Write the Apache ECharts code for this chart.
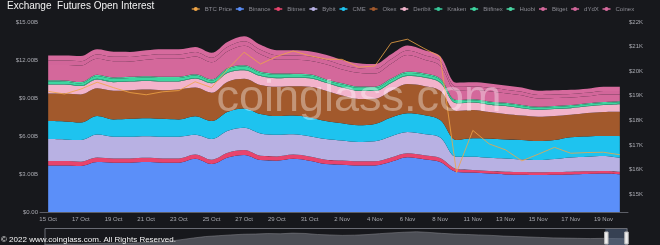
<!DOCTYPE html>
<html><head><meta charset="utf-8">
<script src="https://cdn.jsdelivr.net/npm/echarts@6/dist/echarts.min.js"></script>
<style>html,body{margin:0;padding:0;background:#17181c;}#c{width:660px;height:245px;}</style>
</head><body><div id="c"></div>
<script>
const categories = ['15 Oct','16 Oct','17 Oct','18 Oct','19 Oct','20 Oct','21 Oct','22 Oct','23 Oct','24 Oct','25 Oct','26 Oct','27 Oct','28 Oct','29 Oct','30 Oct','31 Oct','1 Nov','2 Nov','3 Nov','4 Nov','5 Nov','6 Nov','7 Nov','8 Nov','10 Nov','11 Nov','12 Nov','13 Nov','14 Nov','15 Nov','16 Nov','17 Nov','18 Nov','19 Nov','20 Nov'];
// open interest, billions USD
const binance  = [3.68,3.68,3.63,3.94,3.89,3.89,3.94,3.89,3.89,4.20,3.79,4.31,4.50,4.10,4.05,4.20,4.05,3.79,3.74,3.68,3.68,3.97,4.32,4.16,3.94,3.16,3.11,3.03,2.97,2.95,2.92,2.95,2.97,3.00,3.03,2.97];
const bitmex   = [0.34,0.34,0.34,0.36,0.34,0.34,0.34,0.34,0.34,0.34,0.34,0.37,0.39,0.34,0.34,0.34,0.34,0.34,0.32,0.32,0.32,0.34,0.32,0.32,0.32,0.24,0.21,0.21,0.21,0.21,0.21,0.21,0.21,0.21,0.21,0.21];
const bybit    = [1.74,1.71,1.71,1.81,1.71,1.71,1.71,1.71,1.71,1.55,1.63,1.74,1.76,1.76,1.71,1.60,1.60,1.63,1.58,1.53,1.58,1.68,1.68,1.68,1.63,0.97,1.05,1.05,1.05,1.00,0.97,1.03,1.13,1.16,1.18,1.10];
const cme      = [1.42,1.42,1.39,1.47,1.37,1.42,1.42,1.42,1.37,1.47,1.42,1.50,1.53,1.53,1.47,1.47,1.47,1.42,1.37,1.32,1.37,1.47,1.47,1.50,1.37,1.32,1.45,1.50,1.50,1.53,1.50,1.50,1.60,1.60,1.58,1.71];
const okex     = [2.18,2.21,2.21,2.18,2.26,2.26,2.26,2.26,2.37,2.26,2.24,2.37,2.34,2.29,2.31,2.31,2.42,2.39,2.18,2.08,2.00,2.10,2.31,2.29,2.31,2.29,2.24,2.10,2.00,1.92,1.92,1.89,1.76,1.84,1.89,1.92];
const deribit  = [0.71,0.71,0.66,0.71,0.68,0.68,0.68,0.68,0.63,0.71,0.74,0.71,0.68,0.71,0.68,0.68,0.68,0.63,0.63,0.63,0.60,0.63,0.63,0.66,0.63,0.60,0.58,0.58,0.63,0.58,0.55,0.55,0.53,0.53,0.55,0.60];
const kraken   = [0.04,0.04,0.04,0.04,0.04,0.04,0.04,0.04,0.04,0.04,0.04,0.04,0.04,0.04,0.04,0.04,0.04,0.04,0.04,0.04,0.04,0.04,0.04,0.04,0.04,0.03,0.03,0.03,0.03,0.03,0.03,0.03,0.03,0.03,0.03,0.03];
const bitfinex = [0.20,0.18,0.18,0.23,0.23,0.23,0.23,0.23,0.23,0.20,0.18,0.23,0.25,0.20,0.23,0.18,0.18,0.15,0.20,0.20,0.20,0.20,0.20,0.20,0.20,0.15,0.15,0.15,0.15,0.15,0.13,0.13,0.13,0.13,0.13,0.13];
const huobi    = [0.10,0.10,0.10,0.10,0.10,0.10,0.10,0.10,0.10,0.10,0.10,0.10,0.10,0.10,0.10,0.10,0.10,0.10,0.10,0.10,0.10,0.10,0.10,0.10,0.10,0.08,0.08,0.08,0.08,0.08,0.08,0.08,0.08,0.08,0.08,0.08];
const bitget   = [1.20,1.22,1.30,1.25,1.28,1.22,1.30,1.43,1.41,1.41,1.35,1.33,1.54,1.38,1.09,1.09,1.06,1.17,1.09,1.09,1.04,1.17,1.33,1.09,1.01,0.76,0.73,0.81,0.76,0.76,0.65,0.63,0.60,0.55,0.60,0.52];
const dydx     = [0.35,0.35,0.35,0.35,0.35,0.35,0.35,0.35,0.35,0.35,0.35,0.35,0.35,0.35,0.35,0.35,0.35,0.35,0.35,0.35,0.35,0.35,0.35,0.35,0.35,0.28,0.28,0.28,0.28,0.28,0.28,0.28,0.28,0.28,0.28,0.28];
const coinex   = [0.40,0.40,0.40,0.40,0.40,0.40,0.40,0.40,0.40,0.40,0.40,0.40,0.40,0.40,0.40,0.40,0.40,0.40,0.40,0.40,0.40,0.40,0.40,0.40,0.40,0.33,0.33,0.33,0.33,0.33,0.33,0.33,0.33,0.33,0.33,0.33];
// BTC price, thousands USD
const btcPrice = [19.18,19.07,19.27,19.55,19.33,19.13,19.04,19.16,19.21,19.57,19.33,20.09,20.77,20.29,20.60,20.82,20.63,20.49,20.48,20.16,20.21,21.15,21.30,20.93,20.59,15.88,17.59,17.04,16.80,16.35,16.62,16.90,16.66,16.69,16.70,16.60];
// long-history overview shown in the slider
const historyShape = [3.0,3.2,3.4,3.3,3.6,3.9,4.2,4.0,4.5,5.0,5.6,7.0,8.5,9.8,10.5,11.2,11.8,12.0,12.4,12.2,12.8,12.5,11.6,11.2,10.8,11.0,11.5,12.3,13.0,13.6,14.0,13.4,12.6,12.0,11.6,11.2,10.8,10.2,9.8,9.4,9.0,8.6,8.4,8.2,8.0,8.2,8.0,7.8];
const leftTicks = [0,3,6,9,12,15];
const rightTicks = [15,16,17,18,19,20,21,22];

const stackDefs = [
  ['Binance', binance, '#5b8ff9'],
  ['Bitmex', bitmex, '#e8446d'],
  ['Bybit', bybit, '#b8b1e3'],
  ['CME', cme, '#1ec3ef'],
  ['Okex', okex, '#a2592c'],
  ['Deribit', deribit, '#f2b3cb'],
  ['Kraken', kraken, '#38c89a'],
  ['Bitfinex', bitfinex, '#3dd6a0'],
  ['Huobi', huobi, '#4ad6a4'],
  ['Bitget', bitget, '#d4689b'],
  ['dYdX', dydx, '#d2669a'],
  ['Coinex', coinex, '#d66a9d']
];
const FONT = 'Liberation Sans';
const series = stackDefs.map(([name, data, color]) => ({
  name, type: 'line', stack: 'oi', data, smooth: 0.35, symbol: 'circle', showSymbol: false,
  lineStyle: {width: 0, color}, itemStyle: {color}, areaStyle: {color, opacity: 1}, z: 2
}));
series.unshift({
  name: 'BTC Price', type: 'line', yAxisIndex: 1, data: btcPrice, symbol: 'circle', showSymbol: false,
  lineStyle: {width: 1, color: 'rgba(240,165,70,0.8)'}, itemStyle: {color: '#f0a546'}, z: 5
});
series.push({
  name: 'history', type: 'line', xAxisIndex: 1, yAxisIndex: 2, data: historyShape,
  symbol: 'none', lineStyle: {opacity: 0}, silent: true
});

const chart = echarts.init(document.getElementById('c'));
chart.setOption({
  backgroundColor: '#17181c',
  animation: false,
  title: {text: 'Exchange  Futures Open Interest', left: 2, top: -4,
    textStyle: {color: '#f2f2f2', fontSize: 10, fontWeight: 'normal', fontFamily: FONT}},
  legend: {
    top: 1, left: 186, width: 474, itemWidth: 8, itemHeight: 5, itemGap: 3,
    textStyle: {color: '#8c8c94', fontSize: 6, fontFamily: FONT},
    lineStyle: {width: 1.5},
    data: ['BTC Price', ...stackDefs.map(d => d[0])]
  },
  grid: [
    {left: 40, right: 32, top: 22, bottom: 33},
    {left: 42, right: 35, top: 228, height: 20}
  ],
  xAxis: [
    {type: 'category', data: categories, boundaryGap: true,
     axisLine: {lineStyle: {color: '#5c5e66'}}, axisTick: {show: false},
     axisLabel: {interval: 1, color: '#a8a9b0', fontSize: 6, margin: 4, fontFamily: FONT}},
    {type: 'category', gridIndex: 1, data: historyShape.map((_, i) => i), show: false, boundaryGap: false}
  ],
  yAxis: [
    {type: 'value', min: 0, max: 15, interval: 3, splitLine: {show: false},
     axisLine: {show: false}, axisTick: {show: false},
     axisLabel: {color: '#a8a9b0', fontSize: 6, margin: 2, fontFamily: FONT,
       formatter: v => v === 0 ? '$0.00' : '$' + v.toFixed(2) + 'B'}},
    {type: 'value', min: 14.27, max: 22, position: 'right', splitLine: {show: false},
     axisLine: {show: false}, axisTick: {show: false},
     axisLabel: {color: '#a8a9b0', fontSize: 6, margin: 1, fontFamily: FONT, customValues: rightTicks,
       formatter: v => '$' + v + 'K'}},
    {type: 'value', gridIndex: 1, show: false, scale: true}
  ],
  dataZoom: [{
    type: 'slider', xAxisIndex: 1, left: 42, right: 35, top: 228, height: 20,
    start: 96.2, end: 100, showDetail: false, brushSelect: false,
    borderColor: '#6a6c74', backgroundColor: 'rgba(0,0,0,0)',
    fillerColor: 'rgba(80,100,130,0.55)',
    dataBackground: {lineStyle: {color: '#8a8a90', width: 0.5}, areaStyle: {color: '#4c4e55', opacity: 1}},
    selectedDataBackground: {lineStyle: {color: '#8a8a90', width: 0.5}, areaStyle: {color: '#4c4e55', opacity: 1}},
    handleIcon: 'path://M0,0 h4 v14 h-4 z', handleSize: '60%',
    handleStyle: {color: '#eeeeee', borderColor: '#bbbbbb'},
    moveHandleSize: 4, moveHandleStyle: {color: '#8a8f9a'}
  }],
  graphic: [
    {type: 'text', x: 359, y: 99, silent: true, z: 100,
     style: {text: 'coinglass.com', fill: 'rgba(255,255,255,0.36)', font: '45px "Liberation Sans"', align: 'center', verticalAlign: 'middle'}},
    {type: 'text', left: 1, top: 236, silent: true, z: 100,
     style: {text: '© 2022 www.coinglass.com. All Rights Reserved.', fill: '#f4f4f4', font: '8px "Liberation Sans"'}}
  ],
  series
});
</script></body></html>
